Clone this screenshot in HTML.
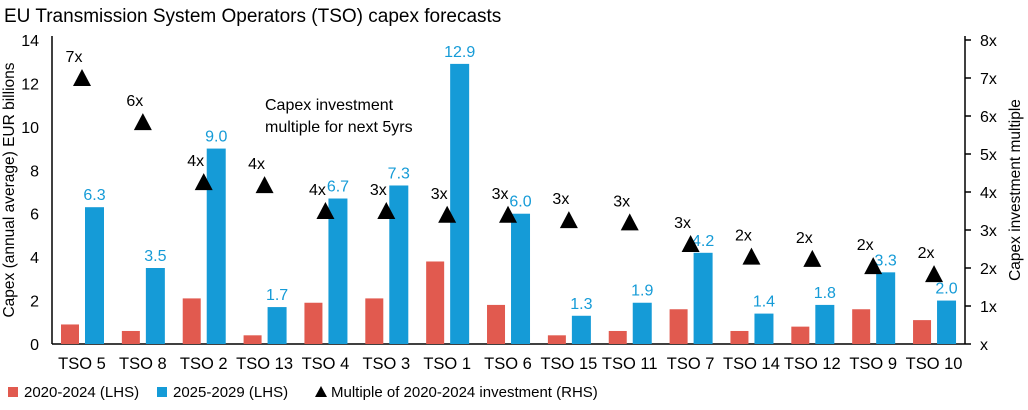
<!DOCTYPE html>
<html><head><meta charset="utf-8"><style>
body{margin:0;background:#fff;width:1028px;height:405px;overflow:hidden;font-family:"Liberation Sans",sans-serif}
</style></head><body>
<svg id="c" width="1028" height="405" xmlns="http://www.w3.org/2000/svg" font-family="Liberation Sans, sans-serif">
<text x="4" y="22" font-size="19" fill="#000">EU Transmission System Operators (TSO) capex forecasts</text>
<g id="g"></g>
</svg>
<script>
const categories=["TSO 5","TSO 8","TSO 2","TSO 13","TSO 4","TSO 3","TSO 1","TSO 6","TSO 15","TSO 11","TSO 7","TSO 14","TSO 12","TSO 9","TSO 10"];
const past=[0.9,0.6,2.1,0.4,1.9,2.1,3.8,1.8,0.4,0.6,1.6,0.6,0.8,1.6,1.1];
const future=[6.3,3.5,9.0,1.7,6.7,7.3,12.9,6.0,1.3,1.9,4.2,1.4,1.8,3.3,2.0];
const multiple=[7.0,5.84,4.26,4.18,3.5,3.5,3.4,3.4,3.26,3.2,2.63,2.3,2.24,2.05,1.84];
const multLabels=["7x","6x","4x","4x","4x","3x","3x","3x","3x","3x","3x","2x","2x","2x","2x"];
const leftTicks=[0,2,4,6,8,10,12,14];
const rightTicks=["x","1x","2x","3x","4x","5x","6x","7x","8x"];
const NS="http://www.w3.org/2000/svg",g=document.getElementById('g');
const y0=344,yL=v=>y0-v*304/14,yR=v=>y0-v*38,xc=i=>82+i*60.86;
function el(t,a,txt){const e=document.createElementNS(NS,t);for(const k in a)e.setAttribute(k,a[k]);if(txt!=null)e.textContent=txt;g.appendChild(e);return e;}
let e;
e=el('line',{x1:52,y1:36,x2:52,y2:y0,stroke:'#000','stroke-width':1.5});


e=el('line',{x1:965,y1:36,x2:965,y2:y0,stroke:'#000','stroke-width':1.5});


e=el('line',{x1:52,y1:y0,x2:965,y2:y0,stroke:'#000','stroke-width':1.5});


leftTicks.forEach(v=>{
 e=el('text',{x:39,y:yL(v)+6,'font-size':16,'text-anchor':'end'},String(v));
 
 
});
rightTicks.forEach((t,i)=>{
 e=el('line',{x1:965,y1:yR(i),x2:971,y2:yR(i),stroke:'#000','stroke-width':1.5});
 
 
 e=el('text',{x:980,y:yR(i)+6,'font-size':16},t);
 
 
});
e=el('text',{x:0,y:0,'font-size':15.5,'text-anchor':'middle',transform:'translate(14,190) rotate(-90)'},'Capex (annual average) EUR billions');


e=el('text',{x:0,y:0,'font-size':15.5,'text-anchor':'middle',transform:'translate(1020,190) rotate(-90)'},'Capex investment multiple');


categories.forEach((c,i)=>{
 const x=xc(i);
 e=el('rect',{x:x-21,y:yL(past[i]),width:18,height:y0-yL(past[i]),fill:'#e15a4f'});
 
 
 e=el('rect',{x:x+3,y:yL(future[i]),width:19,height:y0-yL(future[i]),fill:'#159bd7'});
 
 
 e=el('text',{x:x+12.5,y:yL(future[i])-7,'font-size':16,fill:'#159bd7','text-anchor':'middle'},future[i].toFixed(1));
 
 
 const ty=yR(multiple[i]);
 e=el('polygon',{points:`${x-9},${ty+8} ${x+9},${ty+8} ${x},${ty-9}`,fill:'#000'});
 
 
 e=el('text',{x:x-8,y:ty-16,'font-size':16,'text-anchor':'middle'},multLabels[i]);
 
 
 e=el('text',{x:x,y:369,'font-size':16.5,'text-anchor':'middle'},c);
 
 
});
e=el('text',{x:265,y:110,'font-size':16},'Capex investment');


e=el('text',{x:265,y:132,'font-size':16},'multiple for next 5yrs');


const leg=[[8,'rect','#e15a4f','2020-2024 (LHS)'],[157,'rect','#159bd7','2025-2029 (LHS)'],[315,'tri','#000','Multiple of 2020-2024 investment (RHS)']];
leg.forEach(l=>{
 if(l[1]=='rect'){e=el('rect',{x:l[0],y:387,width:10,height:10,fill:l[2]});}
 else{e=el('polygon',{points:`${l[0]},397 ${l[0]+12},397 ${l[0]+6},386`,fill:'#000'});}
 
 
 e=el('text',{x:l[0]+16,y:397,'font-size':15},l[3]);
 
 
});
</script>
</body></html>
